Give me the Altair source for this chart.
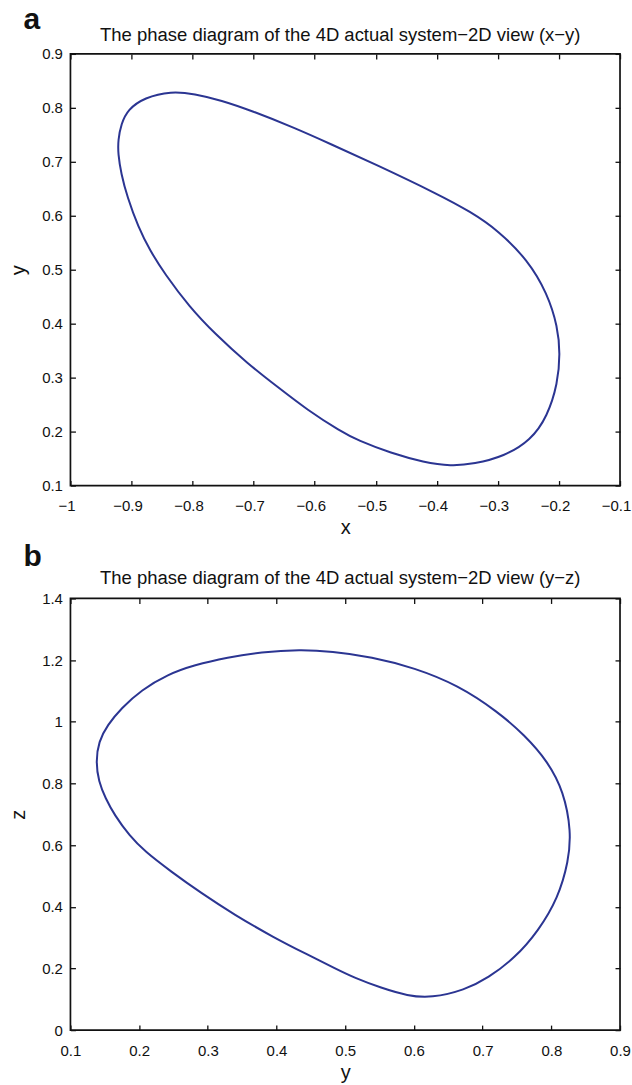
import altair as alt
import pandas as pd

# ---------------- data ----------------
# panel a : x - y projection of the limit cycle (closed loop, clockwise from the top)
xa = [-0.835, -0.797, -0.753, -0.704, -0.633, -0.574, -0.500, -0.400, -0.344, -0.300,
      -0.251, -0.219, -0.202, -0.198, -0.202, -0.219, -0.246, -0.290, -0.339, -0.377,
      -0.421, -0.475, -0.530, -0.557, -0.612, -0.661, -0.710, -0.764, -0.805, -0.846,
      -0.870, -0.889, -0.907, -0.917, -0.922, -0.922, -0.917, -0.906, -0.879]
ya = [0.831, 0.826, 0.814, 0.795, 0.763, 0.733, 0.695, 0.641, 0.607, 0.573,
      0.518, 0.456, 0.394, 0.345, 0.289, 0.228, 0.184, 0.154, 0.140, 0.136,
      0.143, 0.160, 0.184, 0.200, 0.240, 0.283, 0.326, 0.382, 0.431, 0.493,
      0.536, 0.579, 0.635, 0.678, 0.715, 0.740, 0.770, 0.797, 0.819]

# panel b : y - z projection of the limit cycle (closed loop, clockwise from the top)
yb = [0.435, 0.480, 0.538, 0.601, 0.664, 0.722, 0.761, 0.795, 0.818, 0.829,
      0.825, 0.810, 0.781, 0.747, 0.708, 0.674, 0.625, 0.591, 0.552, 0.514,
      0.487, 0.445, 0.397, 0.338, 0.290, 0.246, 0.208, 0.186, 0.164, 0.151,
      0.141, 0.137, 0.141, 0.154, 0.174, 0.203, 0.242, 0.280, 0.329, 0.377]
zb = [1.234, 1.228, 1.211, 1.175, 1.119, 1.033, 0.957, 0.871, 0.774, 0.644,
      0.547, 0.429, 0.321, 0.234, 0.169, 0.130, 0.104, 0.111, 0.137, 0.169,
      0.198, 0.245, 0.299, 0.375, 0.445, 0.515, 0.580, 0.630, 0.698, 0.752,
      0.806, 0.871, 0.936, 0.990, 1.044, 1.103, 1.154, 1.184, 1.209, 1.226]

xticks_a = [-1, -0.9, -0.8, -0.7, -0.6, -0.5, -0.4, -0.3, -0.2, -0.1]
yticks_a = [0.1, 0.2, 0.3, 0.4, 0.5, 0.6, 0.7, 0.8, 0.9]
xticks_b = [0.1, 0.2, 0.3, 0.4, 0.5, 0.6, 0.7, 0.8, 0.9]
yticks_b = [0, 0.2, 0.4, 0.6, 0.8, 1, 1.2, 1.4]

letters = ["a", "b"]
titles = ["The phase diagram of the 4D actual system\u22122D view (x\u2212y)",
          "The phase diagram of the 4D actual system\u22122D view (y\u2212z)"]
xnames = ["x", "y"]
ynames = ["y", "z"]

FONT = "Liberation Sans"
W, H = 550, 432
LINE = "#2b3592"
INK = "#111111"
TICK = 5


def panel(xs, ys, xt, yt, letter, title, xname, yname, xdx, letter_y, title_y):
    xscale = alt.Scale(domain=[xt[0], xt[-1]], nice=False, zero=False)
    yscale = alt.Scale(domain=[yt[0], yt[-1]], nice=False, zero=False)
    common = dict(ticks=True, tickSize=TICK, tickColor=INK, tickWidth=1.3,
                  offset=-TICK, domain=False, grid=False, labelFlush=False,
                  labelOverlap=False)
    xaxis = alt.Axis(values=xt, format=".1~f", orient="bottom",
                     labelFont=FONT, labelFontSize=15, labelColor=INK,
                     labelBaseline="alphabetic", labelPadding=25, labelOffset=xdx,
                     title=xname, titleFont=FONT, titleFontSize=20,
                     titleFontWeight="normal", titleColor=INK,
                     titleX=W / 2, titleY=48.3 + TICK, titleBaseline="alphabetic",
                     titleAlign="center", **common)
    yaxis = alt.Axis(values=yt, format=".1~f", orient="left",
                     labelFont=FONT, labelFontSize=15, labelColor=INK,
                     labelPadding=8, labelBaseline="middle",
                     title=yname, titleFont=FONT, titleFontSize=20,
                     titleFontWeight="normal", titleColor=INK,
                     titleX=-46.3 - TICK, titleY=H / 2, titleAngle=270,
                     titleBaseline="alphabetic", titleAlign="center", **common)
    xaxis_top = alt.Axis(values=xt, orient="top", labels=False, title=None, **common)
    yaxis_right = alt.Axis(values=yt, orient="right", labels=False, title=None, **common)

    df = pd.DataFrame({"h": xs, "v": ys, "i": list(range(len(xs)))})
    line = alt.Chart(df).mark_line(
        interpolate="basis-closed", color=LINE, strokeWidth=2
    ).encode(
        x=alt.X("h:Q", scale=xscale, axis=xaxis),
        y=alt.Y("v:Q", scale=yscale, axis=yaxis),
        order="i:Q",
    )

    xtd = pd.DataFrame({"t": xt})
    ytd = pd.DataFrame({"t": yt})
    top_ticks = alt.Chart(xtd).mark_point(opacity=0, size=1).encode(
        x=alt.X("t:Q", scale=xscale, axis=xaxis_top), y=alt.value(H / 2))
    right_ticks = alt.Chart(ytd).mark_point(opacity=0, size=1).encode(
        y=alt.Y("t:Q", scale=yscale, axis=yaxis_right), x=alt.value(W / 2))

    lab = alt.Chart(pd.DataFrame({"s": [letter]})).mark_text(
        align="left", baseline="alphabetic", font=FONT, fontSize=30,
        fontWeight="bold", color="#111"
    ).encode(x=alt.value(-47), y=alt.value(letter_y), text="s:N")

    ttl = alt.Chart(pd.DataFrame({"s": [title]})).mark_text(
        align="center", baseline="alphabetic", font=FONT, fontSize=18.5,
        color=INK
    ).encode(x=alt.value(270), y=alt.value(title_y), text="s:N")

    return alt.layer(line, top_ticks, right_ticks, lab, ttl).resolve_axis(
        x="independent", y="independent"
    ).properties(width=W, height=H)


pa = panel(xa, ya, xticks_a, yticks_a, letters[0], titles[0], xnames[0], ynames[0],
           -4, -25, -12.6)
pb = panel(yb, zb, xticks_b, yticks_b, letters[1], titles[1], xnames[1], ynames[1],
           0, -32.3, -14.3)

chart = alt.vconcat(pa, pb, spacing=113, bounds="flush").properties(
    padding={"left": 6.5, "top": 3.5, "right": 0, "bottom": 0}
).configure(
    background="white",
    view=alt.ViewConfig(stroke="#111111", strokeWidth=1.7),
)

chart.save("out.html", embed_options={"renderer": "svg", "actions": False})
